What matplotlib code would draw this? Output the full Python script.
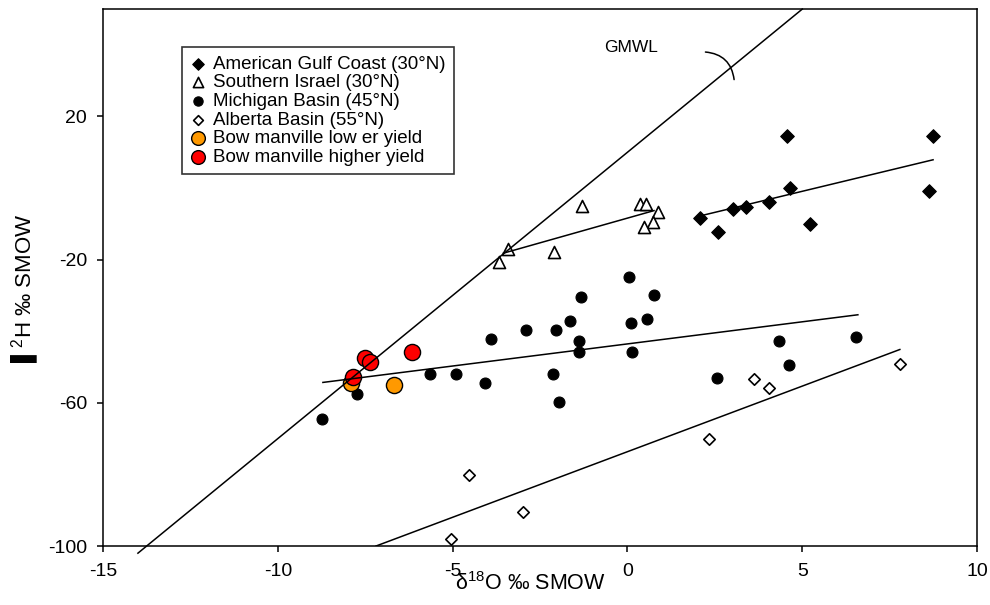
import matplotlib
matplotlib.use('Agg')
import matplotlib.pyplot as plt

plt.rcParams['font.family'] = ['Liberation Sans', 'DejaVu Sans']
plt.rcParams['mathtext.fontset'] = 'custom'
plt.rcParams['mathtext.rm'] = 'Liberation Sans'
plt.rcParams['mathtext.it'] = 'Liberation Sans'
plt.rcParams['axes.unicode_minus'] = False

# data (d18O, d2H)
gulf_x = [4.57, 8.74, 4.64, 8.63, 4.06, 3.38, 3.01, 2.07, 2.58, 5.21]
gulf_y = [14.6, 14.6, 0.1, -0.8, -3.9, -5.4, -5.9, -8.4, -12.3, -10.1]

israel_x = [-1.30, 0.36, 0.52, 0.86, 0.74, 0.48, -2.10, -3.41, -3.67]
israel_y = [-5.0, -4.4, -4.4, -6.6, -9.4, -10.8, -17.8, -17.0, -20.6]

michigan_x = [0.04, -1.33, 0.77, -1.65, -2.91, -2.03, 0.09, 0.56, -3.91, -1.38,
              -1.38, 0.13, -5.64, -4.91, -4.07, -2.13, -1.97, -7.74, -8.74,
              2.55, 4.34, 4.61, 6.55]
michigan_y = [-24.8, -30.5, -30.0, -37.1, -39.7, -39.7, -37.6, -36.6, -42.3, -42.7,
              -45.9, -45.9, -52.0, -52.0, -54.6, -52.0, -59.7, -57.6, -64.6,
              -53.1, -42.8, -49.5, -41.7]

alberta_x = [7.78, 3.63, 4.06, 2.32, -4.53, -2.99, -5.04]
alberta_y = [-49.1, -53.4, -55.9, -70.2, -80.1, -90.4, -98.0]

bow_low_x = [-6.69, -7.91]
bow_low_y = [-55.1, -54.6]

bow_high_x = [-6.17, -7.51, -7.35, -7.86]
bow_high_y = [-45.8, -47.6, -48.5, -52.9]

# line end points
gmwl_x = [-14.0, 5.0]
gmwl_y = [-102.0, 50.0]
gulf_fit_x = [2.07, 8.74]
gulf_fit_y = [-7.8, 7.9]
israel_fit_x = [-3.55, 0.76]
israel_fit_y = [-18.2, -6.3]
michigan_fit_x = [-8.71, 6.59]
michigan_fit_y = [-54.3, -35.4]
alberta_fit_x = [-7.19, 7.79]
alberta_fit_y = [-100.0, -45.1]

x_ticks = [-15, -10, -5, 0, 5, 10]
y_ticks = [-100, -60, -20, 20]

fig = plt.figure(figsize=(9.9, 6.05), dpi=100)
ax = fig.add_axes([0.104, 0.0975, 0.883, 0.8875])

line_kw = dict(color='black', linewidth=1.1, zorder=3)
ax.plot(gmwl_x, gmwl_y, clip_on=False, **line_kw)
ax.plot(gulf_fit_x, gulf_fit_y, **line_kw)
ax.plot(israel_fit_x, israel_fit_y, **line_kw)
ax.plot(michigan_fit_x, michigan_fit_y, **line_kw)
ax.plot(alberta_fit_x, alberta_fit_y, **line_kw)

ax.scatter(gulf_x, gulf_y, marker='D', s=48, c='black', edgecolors='black',
           linewidths=0.8, zorder=2, label='American Gulf Coast (30°N)')
ax.scatter(israel_x, israel_y, marker='^', s=75, facecolors='white', edgecolors='black',
           linewidths=1.2, zorder=2, label='Southern Israel (30°N)')
ax.scatter(michigan_x, michigan_y, marker='o', s=62, c='black', edgecolors='black',
           linewidths=0.8, zorder=2, label='Michigan Basin (45°N)')
ax.scatter(alberta_x, alberta_y, marker='D', s=34, facecolors='white', edgecolors='black',
           linewidths=1.2, zorder=2, label='Alberta Basin (55°N)')
ax.scatter(bow_low_x, bow_low_y, marker='o', s=135, c='#FF9900', edgecolors='black',
           linewidths=1.0, zorder=2, label='Bow manville low er yield')
ax.scatter(bow_high_x, bow_high_y, marker='o', s=135, c='#FF0000', edgecolors='black',
           linewidths=1.0, zorder=2, label='Bow manville higher yield')

ax.text(-0.68, 39.2, 'GMWL', fontsize=12.5, ha='left', va='center')
ax.annotate('', xy=(3.05, 30.3), xytext=(2.23, 38.0),
            arrowprops=dict(arrowstyle='-', color='black', linewidth=1.1,
                            shrinkA=0, shrinkB=0, connectionstyle='arc3,rad=-0.4'))

ax.set_xlim(-15, 10)
ax.set_ylim(-100, 50)
ax.set_xticks(x_ticks)
ax.set_yticks(y_ticks)
ax.tick_params(direction='out', length=4.5, width=1.1, labelsize=14)
ax.tick_params(axis='x', pad=8)
ax.tick_params(axis='y', pad=7)
for sp in ax.spines.values():
    sp.set_linewidth(1.1)

ax.set_xlabel('δ$^{18}$O ‰ SMOW', fontsize=15.5)
ax.xaxis.set_label_coords(0.489, -0.049)
ax.set_ylabel('▌$^{2}$H ‰ SMOW', fontsize=16)
ax.yaxis.set_label_coords(-0.071, 0.480)

leg = ax.legend(loc='upper left', bbox_to_anchor=(0.090, 0.929), borderaxespad=0,
                fontsize=13.5, frameon=True, fancybox=False, edgecolor='black',
                handlelength=0.8, handletextpad=0.4, labelspacing=0.08,
                borderpad=0.45, markerscale=0.85, scatterpoints=1)
leg.get_frame().set_linewidth(1.2)
leg.set_zorder(5)

fig.savefig('out.png', dpi=100)
